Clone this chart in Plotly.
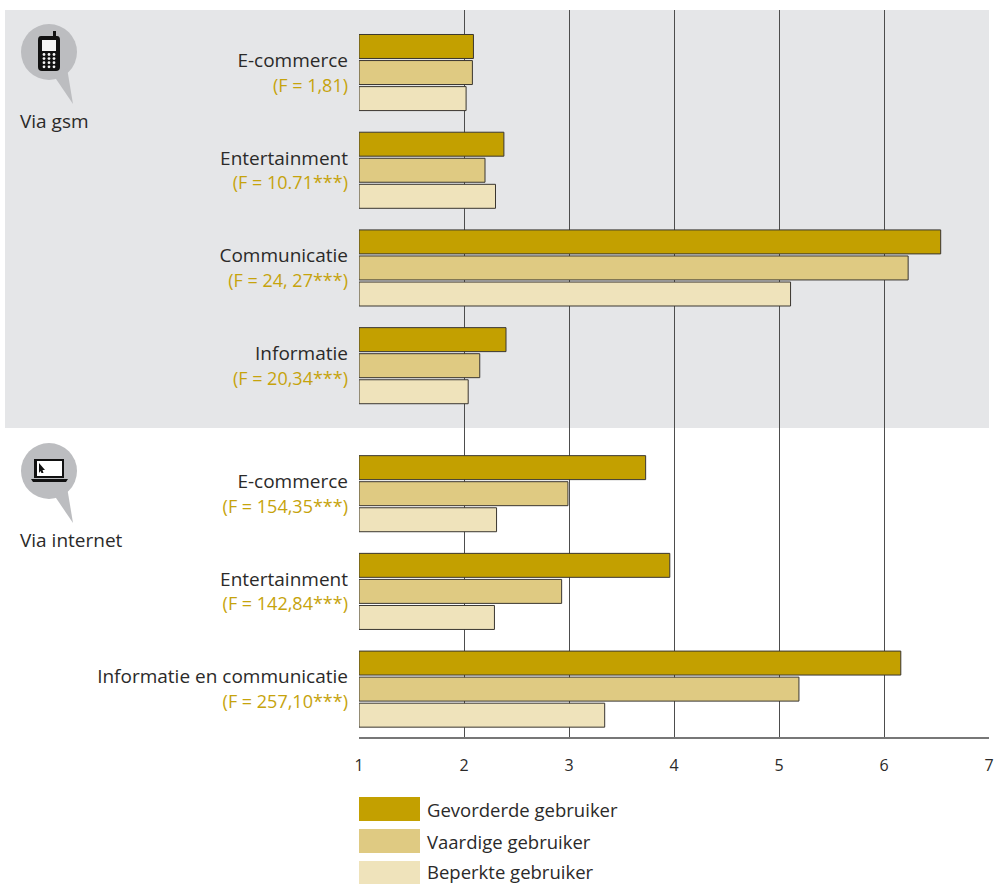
import plotly.graph_objects as go

FONT = "Open Sans"
DARK = "#2b2a29"
GOLD = "#c6a30c"

groups = ["E-commerce", "Entertainment", "Communicatie", "Informatie",
          "E-commerce", "Entertainment", "Informatie en communicatie"]
f_labels = ["(F = 1,81)", "(F = 10.71***)", "(F = 24, 27***)", "(F = 20,34***)",
            "(F = 154,35***)", "(F = 142,84***)", "(F = 257,10***)"]
group_pos = [0, 1, 2, 3, 4.31, 5.31, 6.31]

series_names = ["Gevorderde gebruiker", "Vaardige gebruiker", "Beperkte gebruiker"]
series_colors = ["#c3a000", "#dfca82", "#efe3bb"]
gevorderde = [2.09, 2.38, 6.54, 2.40, 3.73, 3.96, 6.16]
vaardige = [2.08, 2.20, 6.23, 2.15, 2.99, 2.93, 5.19]
beperkte = [2.02, 2.30, 5.11, 2.04, 2.31, 2.29, 3.34]
series_values = [gevorderde, vaardige, beperkte]

x_ticks = [1, 2, 3, 4, 5, 6, 7]
AXIS_MIN, AXIS_MAX = 1, 7

W, H = 997, 884
L, R, T, B = 359, 989, 10, 737


def px(x):
    return (x - L) / (R - L)


def py(y):
    return (B - y) / (B - T)


def rect(x0, y0, x1, y1, color, layer="below"):
    return dict(type="rect", xref="paper", yref="paper", x0=px(x0), x1=px(x1),
                y0=py(y0), y1=py(y1), fillcolor=color, line_width=0, layer=layer)


def poly(points, color, layer="below"):
    d = "M" + " L".join(f"{px(a):.5f},{py(b):.5f}" for a, b in points) + " Z"
    return dict(type="path", xref="paper", yref="paper", path=d, fillcolor=color,
                line_width=0, layer=layer)


def disc(cx, cy, r, color, layer="below"):
    return dict(type="circle", xref="paper", yref="paper", x0=px(cx - r), x1=px(cx + r),
                y0=py(cy + r), y1=py(cy - r), fillcolor=color, line_width=0, layer=layer)


fig = go.Figure()
for name, color, values in zip(series_names, series_colors, series_values):
    fig.add_bar(
        name=name, orientation="h", y=group_pos, base=AXIS_MIN,
        x=[v - AXIS_MIN for v in values],
        marker=dict(color=color, line=dict(color="#3a3630", width=1)),
        showlegend=False,
    )

tick_text = [f"{g}<br><span style='color:{GOLD};font-size:18px'>{f}</span>" for g, f in zip(groups, f_labels)]

BUBBLE = "#bcbdc0"
shapes = [rect(5, 10, 989, 428, "#e5e6e8")]

# gsm icon
shapes += [
    disc(49, 52, 28, BUBBLE),
    poly([(54, 76), (67, 68), (73, 104)], BUBBLE),
    rect(53, 31, 56, 38, "#111111"),
    dict(type="path", xref="paper", yref="paper", fillcolor="#111111", line_width=0, layer="below",
         path=f"M{px(41)},{py(36)} L{px(57)},{py(36)} Q{px(60)},{py(36)} {px(60)},{py(40)} "
              f"L{px(60)},{py(67)} Q{px(60)},{py(71)} {px(56)},{py(71)} L{px(42)},{py(71)} "
              f"Q{px(38)},{py(71)} {px(38)},{py(67)} L{px(38)},{py(40)} Q{px(38)},{py(36)} {px(41)},{py(36)} Z"),
    rect(42, 40, 56, 51, "#f4f4f4"),
]
for row in range(4):
    for col in range(3):
        shapes.append(disc(44 + col * 5, 54.5 + row * 4.1, 1.4, "#f4f4f4"))

# laptop icon
shapes += [
    disc(49, 471, 28, BUBBLE),
    poly([(54, 495), (67, 487), (73, 523)], BUBBLE),
    rect(34, 459, 64, 478, "#111111"),
    rect(37, 461, 62, 476, "#ffffff"),
    poly([(31, 479), (68, 479), (66, 482), (33, 482)], "#111111"),
    poly([(39, 463), (45, 470), (42.5, 470), (43.5, 473), (41.5, 473), (40.5, 471), (39, 473)], "#111111"),
]

annotations = [
    dict(text="Via gsm", x=px(18), y=py(121), font=dict(family=FONT, size=19, color=DARK)),
    dict(text="Via internet", x=px(18), y=py(540), font=dict(family=FONT, size=19, color=DARK)),
]
legend_rows = [(797, 821, 809), (829, 853, 841), (861, 884, 872)]
for (top, bottom, mid), name, color in zip(legend_rows, series_names, series_colors):
    shapes.append(rect(359, top, 420, bottom, color))
    annotations.append(dict(text=name, x=px(425), y=py(mid), font=dict(family=FONT, size=18.5, color=DARK)))
for a in annotations:
    a.update(xref="paper", yref="paper", xanchor="left", yanchor="middle", showarrow=False)

fig.update_layout(
    width=W, height=H, autosize=False,
    margin=dict(l=L, r=W - R, t=T, b=H - B, autoexpand=False),
    paper_bgcolor="#ffffff", plot_bgcolor="rgba(0,0,0,0)",
    barmode="group", bargap=0.2, bargroupgap=0.08,
    shapes=shapes, annotations=annotations,
    font=dict(family=FONT, size=19, color=DARK),
    xaxis=dict(range=[AXIS_MIN, AXIS_MAX], tickvals=x_ticks, showgrid=True, gridcolor="#4d4d4d",
               gridwidth=1, zeroline=False, showline=True, linecolor="#777777", linewidth=1.5,
               ticks="outside", ticklen=13, tickcolor="rgba(0,0,0,0)", layer="below traces",
               tickfont=dict(family=FONT, size=16, color=DARK)),
    yaxis=dict(range=[6.80, -0.64], tickvals=group_pos, ticktext=tick_text, showgrid=False,
               zeroline=False, showline=False, ticks="", ticklabelstandoff=10,
               tickfont=dict(family=FONT, size=19, color=DARK)),
)
fig.write_html("out.html", post_script="document.body.style.margin='0';",
               config=dict(displayModeBar=False))
